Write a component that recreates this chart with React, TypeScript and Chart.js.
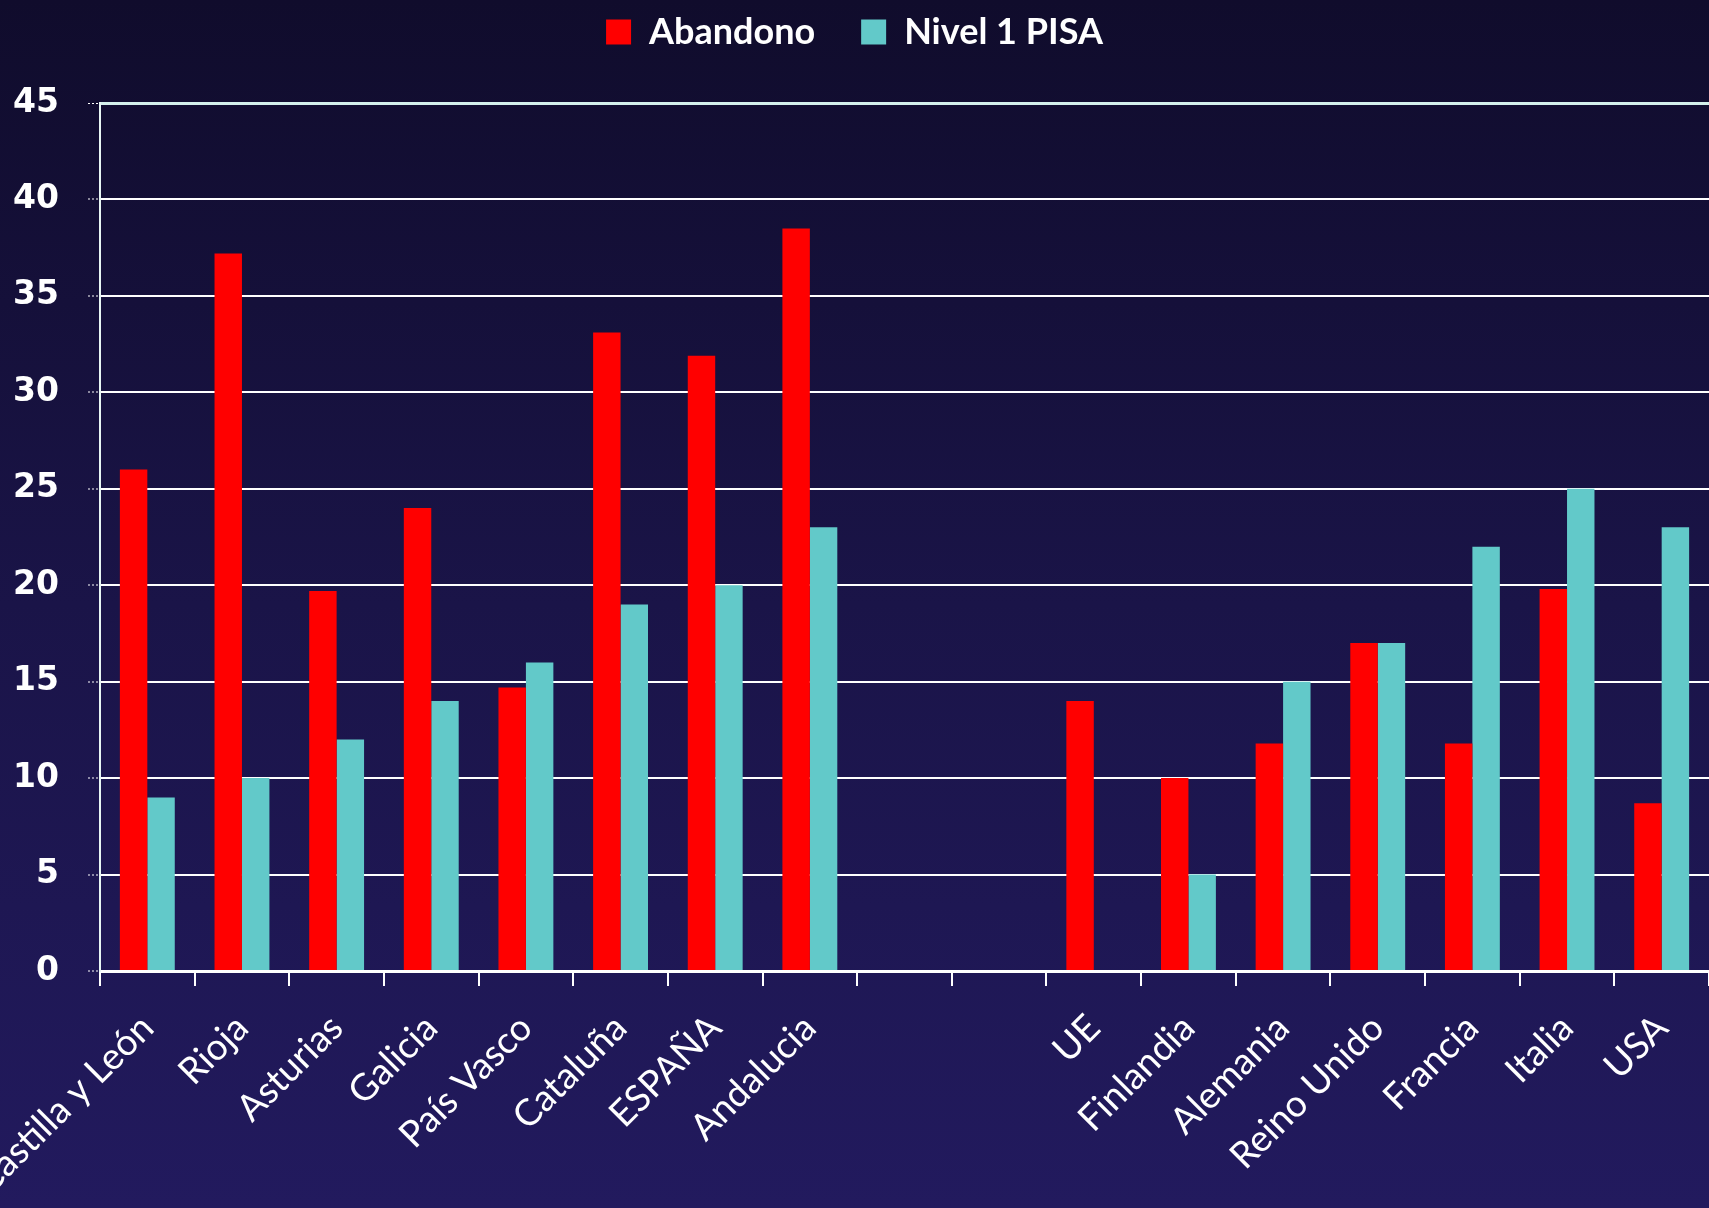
import { useEffect, useRef } from 'react';
import { Chart, registerables } from 'chart.js';

Chart.register(...registerables);

const categories = [
  'Castilla y León', 'Rioja', 'Asturias', 'Galicia', 'País Vasco', 'Cataluña', 'ESPAÑA', 'Andalucia',
  '', '', 'UE', 'Finlandia', 'Alemania', 'Reino Unido', 'Francia', 'Italia', 'USA',
];
const abandono = [26, 37.2, 19.7, 24, 14.7, 33.1, 31.9, 38.5, null, null, 14, 10, 11.8, 17, 11.8, 19.8, 8.7];
const nivel1Pisa = [9, 10, 12, 14, 16, 19, 20, 23, null, null, null, 5, 15, 17, 22, 25, 23];
const seriesNames = ['Abandono', 'Nivel 1 PISA'];
const yMin = 0;
const yMax = 45;
const yStep = 5;

const W = 1709;
const H = 1208;
const LEGEND_TOP = -32;

const legendNudge = {
  id: 'legendNudge',
  afterLayout(chart: any) {
    const lg = chart.legend;
    if (lg) {
      const h = lg.height;
      lg.top = LEGEND_TOP;
      lg.bottom = LEGEND_TOP + h;
    }
  },
};

export default function App() {
  const ref = useRef<HTMLCanvasElement | null>(null);

  useEffect(() => {
    if (!ref.current) return;
    const chart = new Chart(ref.current, {
      type: 'bar',
      data: {
        labels: categories,
        datasets: [
          {
            label: seriesNames[0],
            data: abandono,
            backgroundColor: '#ff0000',
            borderWidth: 0,
            categoryPercentage: 0.58,
            barPercentage: 1.0,
          },
          {
            label: seriesNames[1],
            data: nivel1Pisa,
            backgroundColor: '#62c9c9',
            borderWidth: 0,
            categoryPercentage: 0.58,
            barPercentage: 1.0,
          },
        ],
      },
      options: {
        responsive: false,
        animation: false,
        devicePixelRatio: 1,
        layout: { padding: 0 },
        plugins: {
          tooltip: { enabled: false },
          legend: {
            display: true,
            position: 'top',
            maxHeight: 103,
            labels: {
              color: '#ffffff',
              boxWidth: 25,
              boxHeight: 25,
              padding: 46,
              font: { family: 'Lato', size: 36, weight: 'bold' },
            },
          },
        },
        scales: {
          x: {
            grid: {
              display: true,
              drawOnChartArea: false,
              drawTicks: true,
              tickLength: 15,
              color: '#ffffff',
              lineWidth: 2,
              offset: true,
            },
            border: { display: true, color: '#ffffff', width: 3 },
            ticks: {
              color: '#ffffff',
              autoSkip: false,
              minRotation: 45,
              maxRotation: 45,
              padding: 20,
              font: { family: 'Lato', size: 37 },
            },
            afterFit: (scale: any) => {
              scale.paddingLeft = 0;
              scale.paddingRight = 0;
              scale.height = 237;
            },
          },
          y: {
            min: yMin,
            max: yMax,
            ticks: {
              stepSize: yStep,
              color: '#ffffff',
              padding: 29,
              font: { family: 'DejaVu Sans', size: 33, weight: 'bold' },
            },
            grid: {
              color: (ctx: any) => (ctx.tick && ctx.tick.value === yMax ? '#d4f0ec' : '#ffffff'),
              lineWidth: (ctx: any) => (ctx.tick && ctx.tick.value === yMax ? 3 : 2),
              drawTicks: true,
              tickLength: 12,
              tickColor: '#ffffff',
              tickWidth: 1,
              tickBorderDash: [2, 2],
            },
            border: { display: true, color: '#e8f6f4', width: 2 },
            afterFit: (scale: any) => {
              scale.width = 100;
              scale.paddingTop = 103;
              scale.paddingBottom = 0;
            },
          },
        },
      },
      plugins: [legendNudge],
    } as any);
    return () => chart.destroy();
  }, []);

  return (
    <div
      style={{
        position: 'absolute',
        left: 0,
        top: 0,
        width: W,
        height: H,
        overflow: 'hidden',
        background: 'linear-gradient(to bottom, #100c2c 0%, #1a1448 50%, #221a5e 100%)',
      }}
    >
      <canvas ref={ref} width={W} height={H} style={{ width: W, height: H, display: 'block' }} />
    </div>
  );
}
